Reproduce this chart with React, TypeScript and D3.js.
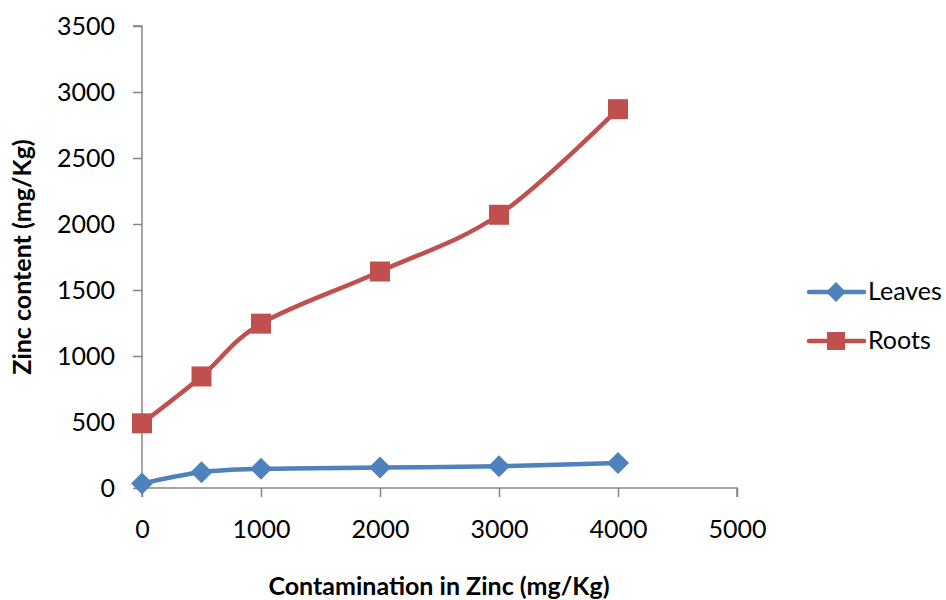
import React, { useEffect, useRef } from 'react';
import * as d3 from 'd3';

const contamination = [0, 500, 1000, 2000, 3000, 4000];
const leaves = [35, 120, 145, 155, 165, 190];
const roots = [490, 845, 1245, 1640, 2070, 2870];
const xTicks = [0, 1000, 2000, 3000, 4000, 5000];
const yTicks = [0, 500, 1000, 1500, 2000, 2500, 3000, 3500];
const seriesNames = ['Leaves', 'Roots'];
const seriesColors = ['#4F81BD', '#C0504D'];

const App = () => {
    const ref = useRef<SVGSVGElement>(null);

    useEffect(() => {
        const svg = d3.select(ref.current);
        svg.selectAll('*').remove();
        const font = 'Lato, "Open Sans", sans-serif';
        const axisColor = '#868686';

        const x = d3.scaleLinear().domain([0, 5000]).range([142, 737]);
        const y = d3.scaleLinear().domain([0, 3500]).range([488, 26]);

        // y axis
        const yAxis = svg.append('g').attr('transform', 'translate(142,0)')
            .call(d3.axisLeft(y).tickValues(yTicks).tickSize(9).tickPadding(18).tickFormat(d3.format('d')));
        yAxis.select('.domain').attr('stroke', axisColor).attr('stroke-width', 1.5).attr('d', `M-9,${y(3500)}H0V${y(0)}`);
        yAxis.selectAll('.tick line').attr('stroke', axisColor).attr('stroke-width', 1.5);
        yAxis.selectAll('.tick text').attr('font-family', font).attr('font-size', 25).attr('fill', '#000');

        // x axis
        const xAxis = svg.append('g').attr('transform', `translate(0,${y(0)})`)
            .call(d3.axisBottom(x).tickValues(xTicks).tickSize(9).tickPadding(23).tickFormat(d3.format('d')));
        xAxis.select('.domain').attr('stroke', axisColor).attr('stroke-width', 1.5).attr('d', `M${x(0)},9V0H${x(5000)}V9`);
        xAxis.selectAll('.tick line').attr('stroke', axisColor).attr('stroke-width', 1.5);
        xAxis.selectAll('.tick text').attr('font-family', font).attr('font-size', 25).attr('fill', '#000');

        // titles
        svg.append('text').attr('x', 439).attr('y', 595).attr('text-anchor', 'middle')
            .attr('font-family', font).attr('font-weight', 'bold').attr('font-size', 25)
            .text('Contamination in Zinc (mg/Kg)');
        svg.append('text').attr('transform', 'translate(31,257) rotate(-90)').attr('text-anchor', 'middle')
            .attr('font-family', font).attr('font-weight', 'bold').attr('font-size', 25)
            .text('Zinc content (mg/Kg)');

        const line = d3.line<number>()
            .x((d, i) => x(contamination[i]))
            .y(d => y(d))
            .curve(d3.curveCardinal.tension(0));

        const data = [leaves, roots];
        data.forEach((values, s) => {
            svg.append('path').datum(values).attr('d', line).attr('fill', 'none')
                .attr('stroke', seriesColors[s]).attr('stroke-width', 4.5).attr('stroke-linecap', 'round');
            const markers = svg.append('g');
            values.forEach((v, i) => {
                const cx = x(contamination[i]);
                const cy = y(v);
                if (s === 0) {
                    markers.append('path').attr('d', `M${cx},${cy - 11}L${cx + 11},${cy}L${cx},${cy + 11}L${cx - 11},${cy}Z`)
                        .attr('fill', seriesColors[s]);
                } else {
                    markers.append('rect').attr('x', cx - 10).attr('y', cy - 10).attr('width', 20).attr('height', 20)
                        .attr('fill', seriesColors[s]);
                }
            });
        });

        // legend
        seriesNames.forEach((name, s) => {
            const ly = 292 + s * 49;
            const g = svg.append('g');
            g.append('line').attr('x1', 809).attr('x2', 864).attr('y1', ly).attr('y2', ly)
                .attr('stroke', seriesColors[s]).attr('stroke-width', 4.5).attr('stroke-linecap', 'round');
            if (s === 0) {
                g.append('path').attr('d', `M836,${ly - 10}L846,${ly}L836,${ly + 10}L826,${ly}Z`).attr('fill', seriesColors[s]);
            } else {
                g.append('rect').attr('x', 827).attr('y', ly - 9).attr('width', 18).attr('height', 18).attr('fill', seriesColors[s]);
            }
            g.append('text').attr('x', 868).attr('y', ly + 8).attr('font-family', font).attr('font-size', 25)
                .text(name);
        });
    }, []);

    return (
        <svg ref={ref} width={946} height={600} style={{ display: 'block', position: 'absolute', left: 0, top: 0 }}></svg>
    );
};

export default App;
